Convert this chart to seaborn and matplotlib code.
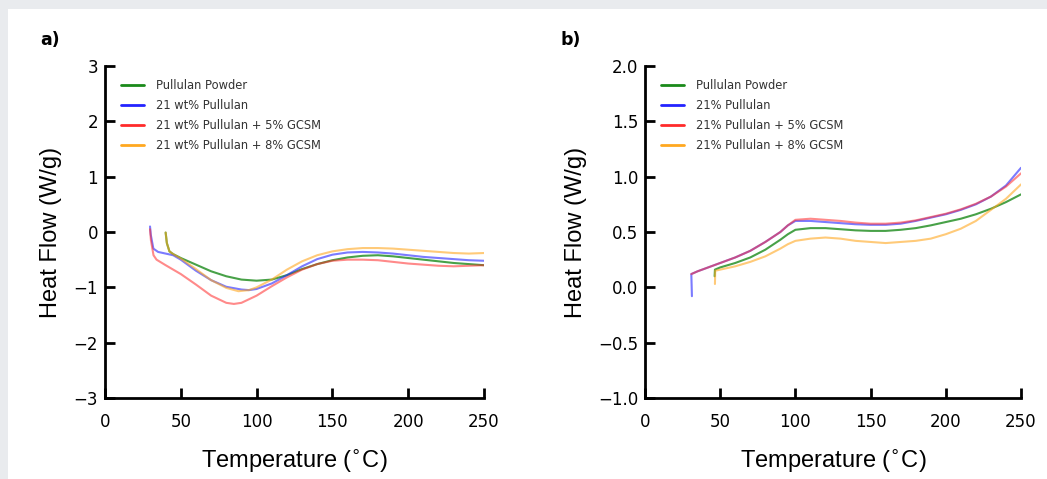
import matplotlib
matplotlib.use("Agg")
import matplotlib.pyplot as plt
import matplotlib.patches as mpatches
import seaborn as sns

# panel a) - heat flow vs temperature
a_powder_x = [40, 40.8, 42.5, 45, 50, 60, 70, 80, 90, 100, 110, 120, 130, 140, 150, 160, 170, 180, 190, 200, 210, 220, 230, 240, 250]
a_powder_y = [-0.01, -0.20, -0.35, -0.40, -0.47, -0.59, -0.71, -0.80, -0.86, -0.88, -0.86, -0.78, -0.67, -0.58, -0.51, -0.46, -0.43, -0.42, -0.44, -0.47, -0.50, -0.53, -0.56, -0.58, -0.60]

a_p21_x = [29.7, 30.2, 31.9, 35, 40, 45, 50, 60, 70, 80, 90, 95, 100, 110, 120, 130, 140, 150, 160, 170, 180, 190, 200, 210, 220, 230, 240, 250]
a_p21_y = [0.10, -0.05, -0.30, -0.36, -0.39, -0.42, -0.50, -0.70, -0.87, -0.99, -1.04, -1.05, -1.03, -0.93, -0.78, -0.62, -0.49, -0.41, -0.37, -0.36, -0.37, -0.39, -0.42, -0.45, -0.47, -0.49, -0.51, -0.52]

a_g5_x = [29.7, 30.3, 32, 34, 40, 50, 60, 70, 80, 85, 90, 100, 110, 120, 130, 140, 150, 160, 170, 180, 190, 200, 210, 220, 230, 240, 250]
a_g5_y = [0.05, -0.15, -0.42, -0.50, -0.60, -0.76, -0.95, -1.15, -1.28, -1.30, -1.28, -1.15, -0.98, -0.82, -0.68, -0.58, -0.52, -0.50, -0.50, -0.51, -0.54, -0.57, -0.59, -0.61, -0.62, -0.61, -0.60]

a_g8_x = [40, 40.8, 42.5, 45, 50, 60, 70, 80, 88, 95, 100, 110, 120, 130, 140, 150, 160, 170, 180, 190, 200, 210, 220, 230, 240, 250]
a_g8_y = [-0.01, -0.20, -0.35, -0.40, -0.48, -0.67, -0.87, -1.01, -1.07, -1.05, -1.00, -0.86, -0.68, -0.53, -0.42, -0.35, -0.31, -0.29, -0.29, -0.30, -0.32, -0.34, -0.36, -0.38, -0.39, -0.38]

# panel b)
b_powder_x = [46.3, 46.5, 50, 60, 70, 80, 90, 95, 100, 110, 120, 130, 140, 150, 160, 170, 180, 190, 200, 210, 220, 230, 240, 250]
b_powder_y = [0.10, 0.16, 0.18, 0.22, 0.27, 0.34, 0.43, 0.48, 0.52, 0.535, 0.535, 0.525, 0.515, 0.51, 0.51, 0.52, 0.535, 0.56, 0.59, 0.62, 0.66, 0.71, 0.77, 0.84]

b_p21_x = [31.2, 30.8, 35, 40, 50, 60, 70, 80, 90, 95, 100, 110, 120, 130, 140, 150, 160, 170, 180, 190, 200, 210, 220, 230, 240, 250]
b_p21_y = [-0.08, 0.12, 0.145, 0.17, 0.22, 0.27, 0.33, 0.41, 0.50, 0.56, 0.60, 0.60, 0.59, 0.58, 0.57, 0.565, 0.565, 0.575, 0.60, 0.63, 0.66, 0.70, 0.75, 0.82, 0.92, 1.08]

b_g5_x = [30.8, 35, 40, 50, 60, 70, 80, 90, 95, 100, 110, 120, 130, 140, 150, 160, 170, 180, 190, 200, 210, 220, 230, 240, 250]
b_g5_y = [0.12, 0.145, 0.17, 0.22, 0.27, 0.33, 0.41, 0.50, 0.56, 0.61, 0.62, 0.61, 0.60, 0.585, 0.575, 0.575, 0.585, 0.605, 0.635, 0.665, 0.705, 0.755, 0.82, 0.91, 1.03]

b_g8_x = [46.5, 46.7, 50, 60, 70, 80, 90, 95, 100, 110, 120, 130, 140, 150, 160, 170, 180, 190, 200, 210, 220, 230, 240, 250]
b_g8_y = [0.03, 0.15, 0.16, 0.19, 0.23, 0.28, 0.35, 0.39, 0.42, 0.44, 0.45, 0.44, 0.42, 0.41, 0.40, 0.41, 0.42, 0.44, 0.48, 0.53, 0.60, 0.70, 0.80, 0.93]

labels_a = ["Pullulan Powder", "21 wt% Pullulan", "21 wt% Pullulan + 5% GCSM", "21 wt% Pullulan + 8% GCSM"]
labels_b = ["Pullulan Powder", "21% Pullulan", "21% Pullulan + 5% GCSM", "21% Pullulan + 8% GCSM"]
colors = ["#1a8a1a", "#2323ff", "#ff2a2a", "#ffa820"]
alphas = [0.8, 0.6, 0.55, 0.6]

sns.set_style("white")
plt.rcParams["font.family"] = ["DejaVu Sans"]
plt.rcParams["text.color"] = "black"
plt.rcParams["axes.labelcolor"] = "black"

fig = plt.figure(figsize=(10.47, 4.79), dpi=100)
fig.patch.set_facecolor("#e9ebee")
bg = mpatches.Rectangle((8 / 1047, 0), 1 - 8 / 1047, 1 - 9 / 479,
                        transform=fig.transFigure, facecolor="white",
                        edgecolor="none", zorder=-10)
fig.patches.append(bg)

ax_a = fig.add_axes([105 / 1047, 1 - 398 / 479, 379 / 1047, 332 / 479])
ax_b = fig.add_axes([645 / 1047, 1 - 398 / 479, 376 / 1047, 332 / 479])

panels = [
    (ax_a, [(a_powder_x, a_powder_y), (a_p21_x, a_p21_y), (a_g5_x, a_g5_y), (a_g8_x, a_g8_y)], labels_a),
    (ax_b, [(b_powder_x, b_powder_y), (b_p21_x, b_p21_y), (b_g5_x, b_g5_y), (b_g8_x, b_g8_y)], labels_b),
]

for ax, series, labels in panels:
    ax.set_facecolor("none")
    for (xs, ys), lab, c, a in zip(series, labels, colors, alphas):
        sns.lineplot(x=xs, y=ys, ax=ax, color=c, label=lab, estimator=None,
                     sort=False, lw=1.5, alpha=a)
    leg = ax.legend(loc="upper left", frameon=False, fontsize=8.3,
                    handlelength=2.0, handletextpad=1.1, labelspacing=0.6,
                    borderaxespad=0.3, bbox_to_anchor=(0.02, 0.985))
    for h in leg.legend_handles:
        h.set_alpha(1)
        h.set_linewidth(2)
    for t in leg.get_texts():
        t.set_color("#333333")
    ax.set_xlim(0, 250)
    ax.set_xticks([0, 50, 100, 150, 200, 250])
    for s in ["top", "right"]:
        ax.spines[s].set_visible(False)
    for s in ["left", "bottom"]:
        ax.spines[s].set_linewidth(2)
        ax.spines[s].set_color("black")
    ax.tick_params(bottom=True, left=True, direction="in", length=7, width=2,
                   labelsize=12, colors="black")
    ax.tick_params(axis="x", pad=11)
    ax.tick_params(axis="y", pad=5)
    ax.set_xlabel("Temperature ($^{\\circ}$C)", fontsize=17, family="Liberation Sans", labelpad=12)
    ax.set_ylabel("Heat Flow (W/g)", fontsize=17, family="Liberation Sans", labelpad=8)

ax_a.set_ylim(-3, 3)
ax_a.set_yticks([-3, -2, -1, 0, 1, 2, 3])
ax_b.set_ylim(-1.0, 2.0)
ax_b.set_yticks([-1.0, -0.5, 0.0, 0.5, 1.0, 1.5, 2.0])
ax_b.set_yticklabels(["\u22121.0", "\u22120.5", "0.0", "0.5", "1.0", "1.5", "2.0"])

fig.text(40 / 1047, 1 - 40 / 479, "a)", fontsize=12.5, fontweight="bold", va="center")
fig.text(560 / 1047, 1 - 40 / 479, "b)", fontsize=12.5, fontweight="bold", va="center")

fig.savefig("out.png", dpi=100, facecolor=fig.get_facecolor())
